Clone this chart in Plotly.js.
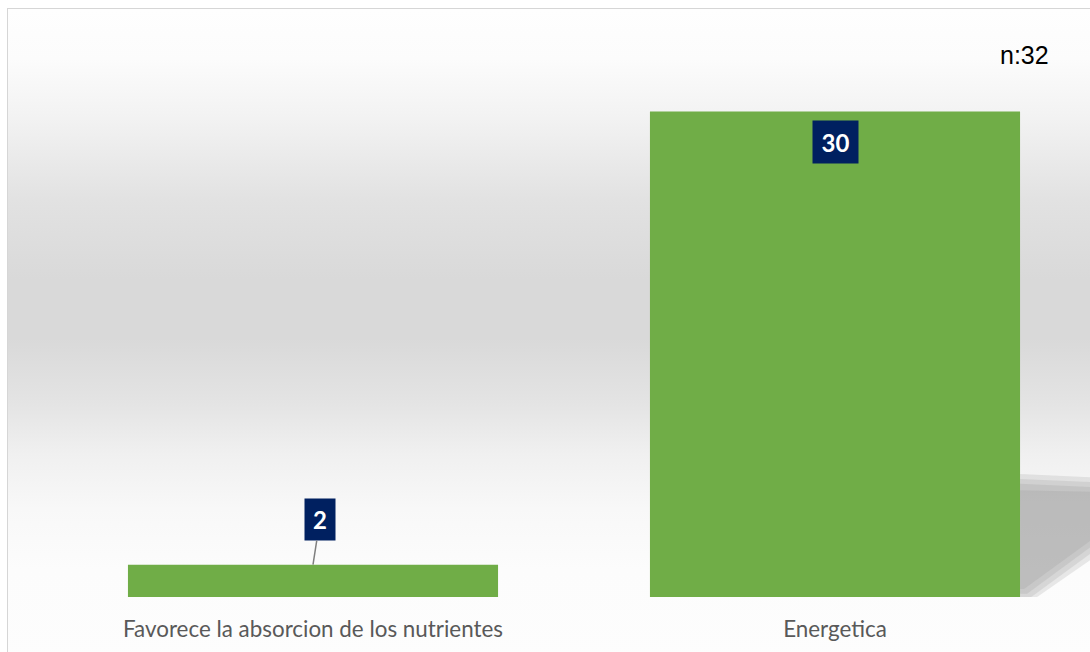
<!DOCTYPE html>
<html>
<head>
<meta charset="utf-8">
<script src="https://cdn.plot.ly/plotly-3.0.1.min.js"></script>
<style>
  html, body { margin: 0; padding: 0; background: #ffffff; width: 1090px; height: 652px; overflow: hidden; }
  #bg {
    position: absolute; left: 7px; top: 8px; width: 1100px; height: 660px;
    border: 1px solid #d6d6d6; box-sizing: border-box;
    background: linear-gradient(to bottom,
      #fefefe 0px, #fcfcfc 50px, #f2f2f2 110px, #e2e2e2 190px, #d9d9d9 270px,
      #d9d9d9 330px, #e4e4e4 395px, #f0f0f0 445px, #f8f8f8 500px, #fcfcfc 560px, #fdfdfd 660px);
  }
  #chart { position: absolute; left: 0; top: 0; width: 1090px; height: 652px; }
</style>
</head>
<body>
<div id="bg"></div>
<div id="chart"></div>
<script>
const categories = ["Favorece la absorcion de los nutrientes", "Energetica"];
const counts = [2, 30];
const sampleLabel = "n:32";

const barColor = "#70AD47";
const labelBg = "#002060";

const trace = {
  type: "bar",
  x: categories,
  y: counts,
  marker: { color: barColor },
  hoverinfo: "x+y"
};

const annotations = [
  {
    x: categories[0], y: counts[0], xref: "x", yref: "y",
    text: "<b>" + counts[0] + "</b>",
    showarrow: true, arrowhead: 0, arrowwidth: 1.5, arrowcolor: "#7f7f7f",
    ax: 7, ay: -45, standoff: 0,
    font: { family: "Lato, sans-serif", size: 24, color: "#ffffff" },
    bgcolor: labelBg, borderpad: 2, width: 26, height: 37
  },
  {
    x: categories[1], y: counts[1], xref: "x", yref: "y",
    text: "<b>" + counts[1] + "</b>",
    showarrow: false, yshift: -30,
    font: { family: "Lato, sans-serif", size: 24, color: "#ffffff" },
    bgcolor: labelBg, borderpad: 2, width: 41, height: 38
  },
  {
    xref: "paper", yref: "paper", x: 1, y: 1,
    xanchor: "right", yanchor: "middle",
    xshift: -39, yshift: -47,
    text: sampleLabel, showarrow: false,
    font: { family: "Liberation Sans, Arial, sans-serif", size: 25, color: "#000000" }
  }
];

// soft perspective shadow behind the tall bar (decoration)
const shadowLayers = [
  "M 1.3545 7.6 L 1.49 7.4 L 1.49 2.3 L 1.385 -0.05 L 1.3545 -0.05 Z",
  "M 1.3545 7.3 L 1.49 7.1 L 1.49 2.7 L 1.376 0 L 1.3545 0 Z",
  "M 1.3545 7.0 L 1.49 6.8 L 1.49 3.1 L 1.368 0.2 L 1.3545 0.2 Z",
  "M 1.3545 6.6 L 1.49 6.5 L 1.49 3.5 L 1.362 0.5 L 1.3545 0.5 Z"
];
const shapes = shadowLayers.map(p => ({
  type: "path", xref: "x", yref: "y", layer: "below",
  path: p, fillcolor: "rgba(140,140,140,0.18)", line: { width: 0 }
}));

const layout = {
  width: 1090, height: 652,
  margin: { l: 52, r: 0, t: 8, b: 55, pad: 0 },
  paper_bgcolor: "rgba(0,0,0,0)",
  plot_bgcolor: "rgba(0,0,0,0)",
  showlegend: false,
  bargap: 0.291,
  xaxis: {
    range: [-0.5, 1.4885],
    showgrid: false, zeroline: false, showline: false, ticks: "",
    tickfont: { family: "Lato, sans-serif", size: 22.4, color: "#595959" },
    ticklabelstandoff: 17,
    fixedrange: true
  },
  yaxis: {
    range: [0, 36.4],
    showgrid: false, zeroline: false, showline: false, showticklabels: false, ticks: "",
    fixedrange: true
  },
  annotations: annotations,
  shapes: shapes
};

Plotly.newPlot("chart", [trace], layout, { displayModeBar: false, staticPlot: true });
</script>
</body>
</html>
